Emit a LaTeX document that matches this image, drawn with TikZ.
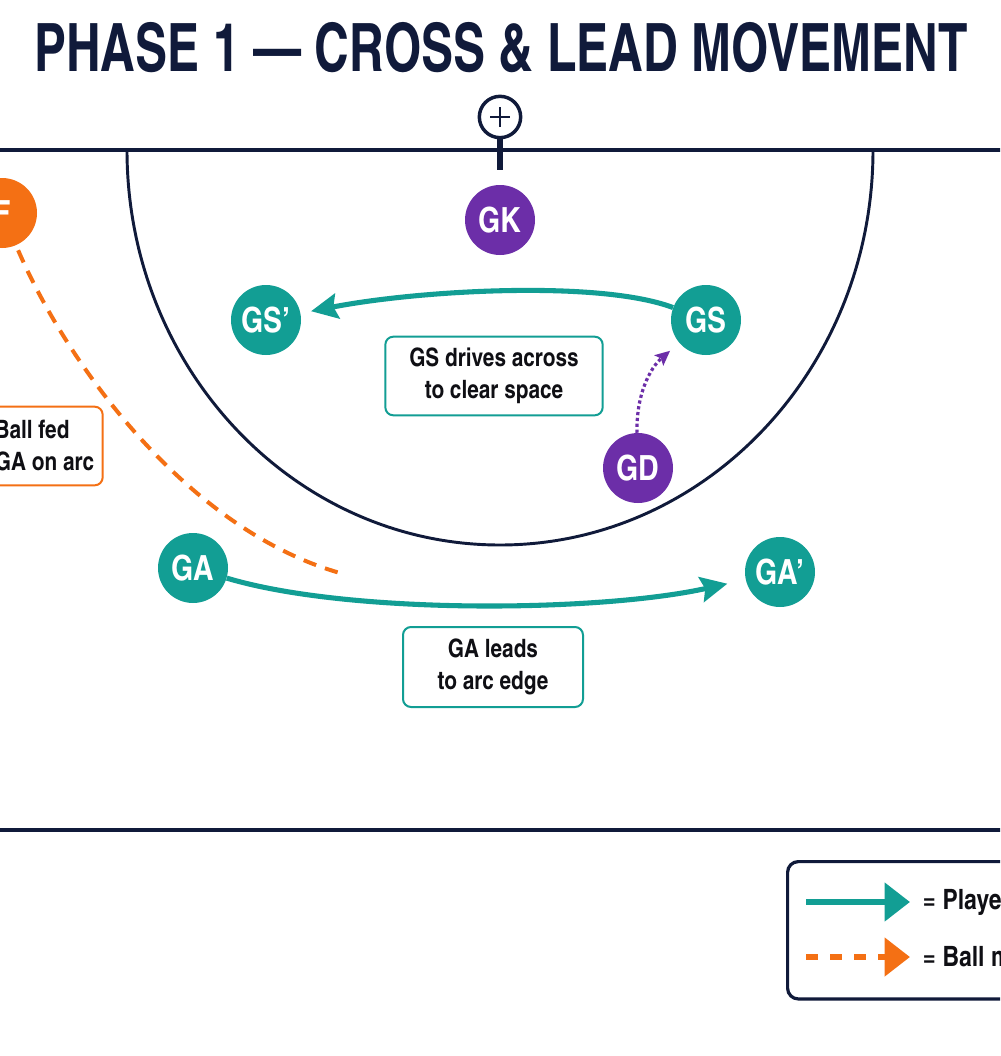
\documentclass[tikz,border=0pt]{standalone}
\usepackage{fontspec}
\setmainfont{texgyreheroscn}[Extension=.otf, UprightFont=*-regular, BoldFont=*-bold]
\usepackage{tikz}
\usetikzlibrary{arrows.meta, positioning, calc}
\definecolor{courtnavy}{RGB}{16, 26, 58}
\definecolor{attackteal}{RGB}{18, 158, 148}
\definecolor{defpurple}{RGB}{108, 46, 168}
\definecolor{feedorange}{RGB}{244, 112, 20}
\definecolor{inkblack}{RGB}{15, 15, 20}

\tikzset{
  player/.style={circle, fill=#1, minimum size=52.5pt, inner sep=0pt,
    text=white, font=\fontsize{26}{26}\selectfont\bfseries},
  notebox/.style={draw=#1, line width=1.5pt, rounded corners=6pt, fill=white,
    align=center, text=inkblack, font=\fontsize{19}{24}\selectfont\bfseries},
  courtline/.style={draw=courtnavy, line width=3pt},
  runarrow/.style={draw=attackteal, line width=3.8pt,
    -{Stealth[length=20pt, width=19pt, inset=3pt]}},
  screenarrow/.style={draw=defpurple, line width=2.4pt, dotted,
    -{Stealth[length=11pt, width=10pt, inset=2pt]}},
  ballpass/.style={draw=feedorange, line width=3pt, dash pattern=on 10pt off 7pt},
  legendtext/.style={anchor=west, text=inkblack, font=\fontsize{21}{21}\selectfont\bfseries}
}

\begin{document}
\begin{tikzpicture}[x=0.75pt, y=-0.75pt]
  \useasboundingbox (0,0) rectangle (1000,1056);
  \fill[white] (0,0) rectangle (1000,1056);
  \clip (0,0) rectangle (1000,1056);

  % title
  \node[text=courtnavy, font=\fontsize{50}{50}\selectfont\bfseries] (title) at (501,48)
    {\scalebox{0.88}[1]{PHASE 1 — CROSS \& LEAD MOVEMENT}};

  % court
  \draw[courtline] (-20,150) -- (1020,150);
  \draw[courtline] (-20,830) -- (1020,830);
  \draw[courtline, line width=2.2pt] (127,150)
    arc[start angle=180, end angle=0, x radius=373, y radius=395];

  % goal post
  \node[circle, draw=courtnavy, line width=2.6pt, minimum size=31pt, inner sep=0pt, fill=white] (post) at (500,117) {};
  \draw[courtnavy, line width=3.8pt] (post.south) -- ++(0,31);
  \draw[courtnavy, line width=2pt] ($(post.center)+(-10,0)$) -- ($(post.center)+(10,0)$);
  \draw[courtnavy, line width=2pt] ($(post.center)+(0,-10)$) -- ($(post.center)+(0,10)$);

  % players
  \node[player=defpurple] (gk) at (500,220) {GK};
  \node[player=attackteal] (gsp) at (266,320) {GS’};
  \node[player=attackteal] (gs) at (706,320) {GS};
  \node[player=defpurple] (gd) at (638,468) {GD};
  \node[player=attackteal] (ga) at (193,568) {GA};
  \node[player=attackteal] (gap) at (780,572) {GA’};
  \node[player=feedorange] (feeder) at (2,213) {F};

  % notes
  \node[notebox=attackteal, minimum width=163pt, minimum height=59pt] (gsnote) at (494,376)
    {GS drives across\\to clear space};
  \node[notebox=attackteal, minimum width=135pt, minimum height=60pt] (ganote) at (493,667)
    {GA leads\\to arc edge};
  \node[notebox=feedorange, minimum width=106pt, minimum height=59pt] (ballnote) at (32,446)
    {Ball fed\\to GA on arc};

  % movements
  \draw[runarrow, shorten >=8pt] (gs) .. controls (600,280) and (420,290) .. (gsp);
  \draw[runarrow, shorten >=14pt] (ga) .. controls (350,615) and (600,612) .. (gap);
  \draw[screenarrow, shorten >=9pt] (gd) .. controls (636,395) and (650,368) .. (gs);
  \coordinate (ballend) at (340,573);
  \draw[ballpass, shorten <=4pt] (feeder) .. controls (70,370) and (190,530) .. (ballend);

  % legend
  \node[draw=courtnavy, line width=2.4pt, rounded corners=8pt, fill=white, anchor=north west,
        minimum width=220pt, minimum height=103pt] (legend) at (786,860) {};
  \coordinate (runfrom) at (806,902);
  \coordinate (runto) at (910,902);
  \draw[draw=attackteal, line width=5pt, -{Triangle[length=19pt, width=28pt]}] (runfrom) -- (runto);
  \node[legendtext] (runkey) at (918,902) {= Player movement};
  \coordinate (ballfrom) at (806,957);
  \coordinate (ballto) at (910,957);
  \draw[draw=feedorange, line width=5pt, dash pattern=on 9pt off 9pt,
        -{Triangle[length=19pt, width=28pt, fill=feedorange]}] (ballfrom) -- (ballto);
  \node[legendtext] (ballkey) at (918,957) {= Ball movement};
\end{tikzpicture}
\end{document}
